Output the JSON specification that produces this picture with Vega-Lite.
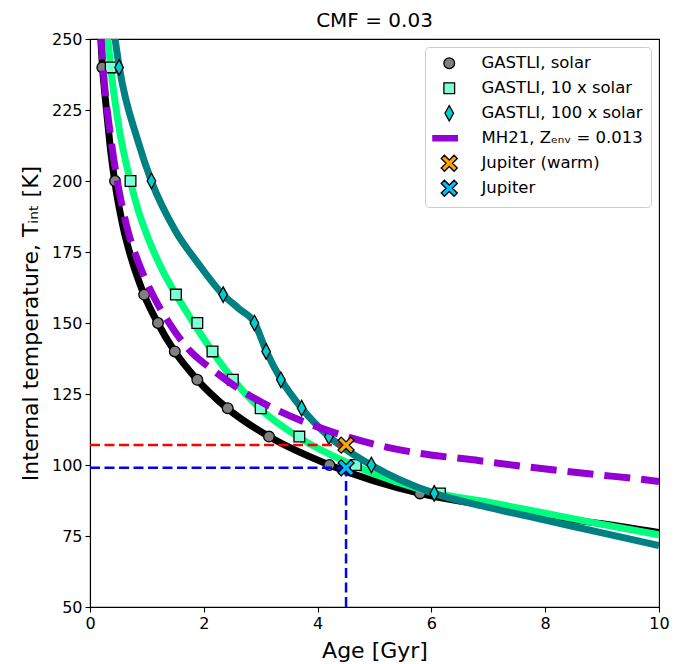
{
  "$schema": "https://vega.github.io/schema/vega-lite/v6.json",
  "width": 569,
  "height": 568,
  "autosize": "none",
  "padding": {"left": 90, "top": 39, "right": 25, "bottom": 57},
  "background": "white",
  "title": {"text": "CMF = 0.03", "fontSize": 20, "font": "DejaVu Sans", "fontWeight": "normal", "anchor": "middle", "offset": 0, "color": "black"},
  "config": {
    "font": "DejaVu Sans",
    "view": {"stroke": "black", "strokeWidth": 1.1},
    "axis": {"domainColor": "black", "domainWidth": 1.1, "tickColor": "black", "tickWidth": 1.1, "tickSize": 5, "labelFont": "DejaVu Sans", "labelFontSize": 16, "labelColor": "black", "titleFont": "DejaVu Sans", "titleFontSize": 22, "titleFontWeight": "normal", "titleColor": "black", "grid": false, "labelPadding": 3, "labelFlush": false, "labelOverlap": false},
    "legend": {"orient": "top-right", "offset": 8, "padding": 8, "fillColor": "white", "strokeColor": "#cccccc", "cornerRadius": 4, "labelFont": "DejaVu Sans", "labelFontSize": 16.5, "labelColor": "black", "symbolSize": 115, "symbolStrokeWidth": 1.3, "symbolOpacity": 1, "rowPadding": 3, "gridAlign": "all", "symbolOffset": 8, "labelOffset": 24, "labelLimit": 400}
  },
  "datasets": {
    "curves": [
      {"series": "GASTLI, solar", "age": 0.18, "T": 253.3},
      {"series": "GASTLI, solar", "age": 0.22, "T": 240},
      {"series": "GASTLI, solar", "age": 0.29, "T": 225},
      {"series": "GASTLI, solar", "age": 0.35, "T": 213},
      {"series": "GASTLI, solar", "age": 0.434, "T": 200},
      {"series": "GASTLI, solar", "age": 0.58, "T": 184},
      {"series": "GASTLI, solar", "age": 0.73, "T": 172.5},
      {"series": "GASTLI, solar", "age": 0.949, "T": 160},
      {"series": "GASTLI, solar", "age": 1.19, "T": 150},
      {"series": "GASTLI, solar", "age": 1.488, "T": 140},
      {"series": "GASTLI, solar", "age": 1.886, "T": 130},
      {"series": "GASTLI, solar", "age": 2.41, "T": 120},
      {"series": "GASTLI, solar", "age": 3.146, "T": 110},
      {"series": "GASTLI, solar", "age": 4.206, "T": 100},
      {"series": "GASTLI, solar", "age": 5.8, "T": 90},
      {"series": "GASTLI, solar", "age": 6.8, "T": 86.2},
      {"series": "GASTLI, solar", "age": 8, "T": 82},
      {"series": "GASTLI, solar", "age": 9, "T": 79.3},
      {"series": "GASTLI, solar", "age": 10, "T": 76.2},
      {"series": "GASTLI, 10 x solar", "age": 0.3, "T": 253},
      {"series": "GASTLI, 10 x solar", "age": 0.364, "T": 240},
      {"series": "GASTLI, 10 x solar", "age": 0.5, "T": 220},
      {"series": "GASTLI, 10 x solar", "age": 0.709, "T": 200},
      {"series": "GASTLI, 10 x solar", "age": 0.85, "T": 189.5},
      {"series": "GASTLI, 10 x solar", "age": 1.0, "T": 181},
      {"series": "GASTLI, 10 x solar", "age": 1.25, "T": 169.5},
      {"series": "GASTLI, 10 x solar", "age": 1.51, "T": 160},
      {"series": "GASTLI, 10 x solar", "age": 1.82, "T": 150},
      {"series": "GASTLI, 10 x solar", "age": 2.15, "T": 140},
      {"series": "GASTLI, 10 x solar", "age": 2.52, "T": 130},
      {"series": "GASTLI, 10 x solar", "age": 2.98, "T": 120},
      {"series": "GASTLI, 10 x solar", "age": 3.65, "T": 110},
      {"series": "GASTLI, 10 x solar", "age": 4.62, "T": 100},
      {"series": "GASTLI, 10 x solar", "age": 6.1, "T": 90},
      {"series": "GASTLI, 10 x solar", "age": 7, "T": 86.9},
      {"series": "GASTLI, 10 x solar", "age": 8, "T": 83},
      {"series": "GASTLI, 10 x solar", "age": 9, "T": 79.1},
      {"series": "GASTLI, 10 x solar", "age": 10, "T": 75.4},
      {"series": "GASTLI, 100 x solar", "age": 0.42, "T": 253},
      {"series": "GASTLI, 100 x solar", "age": 0.515, "T": 240},
      {"series": "GASTLI, 100 x solar", "age": 0.844, "T": 214},
      {"series": "GASTLI, 100 x solar", "age": 1.078, "T": 200},
      {"series": "GASTLI, 100 x solar", "age": 1.5, "T": 182.5},
      {"series": "GASTLI, 100 x solar", "age": 1.9, "T": 171},
      {"series": "GASTLI, 100 x solar", "age": 2.337, "T": 160},
      {"series": "GASTLI, 100 x solar", "age": 2.62, "T": 155},
      {"series": "GASTLI, 100 x solar", "age": 2.894, "T": 150},
      {"series": "GASTLI, 100 x solar", "age": 3.1, "T": 140},
      {"series": "GASTLI, 100 x solar", "age": 3.36, "T": 130},
      {"series": "GASTLI, 100 x solar", "age": 3.72, "T": 120},
      {"series": "GASTLI, 100 x solar", "age": 4.2, "T": 110},
      {"series": "GASTLI, 100 x solar", "age": 4.94, "T": 100},
      {"series": "GASTLI, 100 x solar", "age": 6.05, "T": 90},
      {"series": "GASTLI, 100 x solar", "age": 7, "T": 85.1},
      {"series": "GASTLI, 100 x solar", "age": 8, "T": 80.6},
      {"series": "GASTLI, 100 x solar", "age": 9, "T": 76.1},
      {"series": "GASTLI, 100 x solar", "age": 10, "T": 71.6},
      {"series": "MH21", "age": 0.19, "T": 252},
      {"series": "MH21", "age": 0.23, "T": 240},
      {"series": "MH21", "age": 0.36, "T": 216},
      {"series": "MH21", "age": 0.48, "T": 200},
      {"series": "MH21", "age": 0.66, "T": 183},
      {"series": "MH21", "age": 0.87, "T": 170.4},
      {"series": "MH21", "age": 1.14, "T": 158.5},
      {"series": "MH21", "age": 1.37, "T": 150.7},
      {"series": "MH21", "age": 1.72, "T": 141},
      {"series": "MH21", "age": 2.19, "T": 133},
      {"series": "MH21", "age": 2.72, "T": 125.5},
      {"series": "MH21", "age": 3.25, "T": 119.7},
      {"series": "MH21", "age": 3.92, "T": 114},
      {"series": "MH21", "age": 4.51, "T": 110},
      {"series": "MH21", "age": 5.1, "T": 106.8},
      {"series": "MH21", "age": 5.68, "T": 104.5},
      {"series": "MH21", "age": 6.85, "T": 101.5},
      {"series": "MH21", "age": 7.7, "T": 99.3},
      {"series": "MH21", "age": 8.32, "T": 97.9},
      {"series": "MH21", "age": 8.96, "T": 96.5},
      {"series": "MH21", "age": 9.58, "T": 95.2},
      {"series": "MH21", "age": 10, "T": 94.2}
    ],
    "markers": [
      {"series": "GASTLI, solar", "age": 0.217, "T": 240},
      {"series": "GASTLI, solar", "age": 0.44, "T": 200},
      {"series": "GASTLI, solar", "age": 0.952, "T": 160},
      {"series": "GASTLI, solar", "age": 1.195, "T": 150},
      {"series": "GASTLI, solar", "age": 1.49, "T": 140},
      {"series": "GASTLI, solar", "age": 1.886, "T": 130},
      {"series": "GASTLI, solar", "age": 2.42, "T": 120},
      {"series": "GASTLI, solar", "age": 3.146, "T": 110},
      {"series": "GASTLI, solar", "age": 4.206, "T": 100},
      {"series": "GASTLI, solar", "age": 5.8, "T": 90},
      {"series": "GASTLI, 10 x solar", "age": 0.364, "T": 240},
      {"series": "GASTLI, 10 x solar", "age": 0.712, "T": 200},
      {"series": "GASTLI, 10 x solar", "age": 1.51, "T": 160},
      {"series": "GASTLI, 10 x solar", "age": 1.886, "T": 150},
      {"series": "GASTLI, 10 x solar", "age": 2.153, "T": 140},
      {"series": "GASTLI, 10 x solar", "age": 2.51, "T": 130},
      {"series": "GASTLI, 10 x solar", "age": 3.0, "T": 120},
      {"series": "GASTLI, 10 x solar", "age": 3.679, "T": 110},
      {"series": "GASTLI, 10 x solar", "age": 4.67, "T": 100},
      {"series": "GASTLI, 10 x solar", "age": 6.15, "T": 90},
      {"series": "GASTLI, 100 x solar", "age": 0.512, "T": 240},
      {"series": "GASTLI, 100 x solar", "age": 1.08, "T": 200},
      {"series": "GASTLI, 100 x solar", "age": 2.34, "T": 160},
      {"series": "GASTLI, 100 x solar", "age": 2.89, "T": 150},
      {"series": "GASTLI, 100 x solar", "age": 3.095, "T": 140},
      {"series": "GASTLI, 100 x solar", "age": 3.355, "T": 130},
      {"series": "GASTLI, 100 x solar", "age": 3.72, "T": 120},
      {"series": "GASTLI, 100 x solar", "age": 4.198, "T": 110},
      {"series": "GASTLI, 100 x solar", "age": 4.945, "T": 100},
      {"series": "GASTLI, 100 x solar", "age": 6.05, "T": 90},
      {"series": "Jupiter (warm)", "age": 4.5, "T": 107},
      {"series": "Jupiter", "age": 4.5, "T": 99}
    ],
    "guides": [
      {"ref": "warm", "age": 0, "age2": 4.5, "T": 107, "T2": 107},
      {"ref": "cold", "age": 0, "age2": 4.5, "T": 99, "T2": 99},
      {"ref": "cold", "age": 4.5, "age2": 4.5, "T": 50, "T2": 99}
    ]
  },
  "encoding": {
    "x": {"field": "age", "type": "quantitative", "scale": {"domain": [0, 10], "zero": false, "nice": false}, "axis": {"title": "Age [Gyr]", "values": [0, 2, 4, 6, 8, 10], "titlePadding": 9}},
    "y": {"field": "T", "type": "quantitative", "scale": {"domain": [50, 250], "zero": false, "nice": false}, "axis": {"title": "Internal temperature, Tᵢₙₜ [K]", "values": [50, 75, 100, 125, 150, 175, 200, 225, 250], "titlePadding": 9}}
  },
  "layer": [
    {
      "data": {"name": "curves"},
      "transform": [{"filter": "datum.series === 'GASTLI, solar'"}],
      "mark": {"type": "line", "color": "black", "strokeWidth": 7, "interpolate": "monotone", "clip": true}
    },
    {
      "data": {"name": "markers"},
      "transform": [{"filter": "datum.series === 'GASTLI, solar'"}],
      "mark": {"type": "point", "filled": true, "size": 115, "strokeWidth": 1.3, "opacity": 1},
      "encoding": {
        "shape": {"field": "series", "type": "nominal", "legend": {"title": null}, "scale": {"domain": ["GASTLI, solar", "GASTLI, 10 x solar", "GASTLI, 100 x solar", "MH21, Zₑₙᵥ = 0.013", "Jupiter (warm)", "Jupiter"], "range": ["M1,0A1,1,0,1,1,-1,0A1,1,0,1,1,1,0Z", "M-1,-1H1V1H-1Z", "M0,-1.45L0.8,0L0,1.45L-0.8,0Z", "M-3.05,-0.5H1.5V0.5H-3.05Z", "M1.5,-0.9L0.6,0L1.5,0.9L0.9,1.5L0,0.6L-0.9,1.5L-1.5,0.9L-0.6,0L-1.5,-0.9L-0.9,-1.5L0,-0.6L0.9,-1.5Z", "M1.5,-0.9L0.6,0L1.5,0.9L0.9,1.5L0,0.6L-0.9,1.5L-1.5,0.9L-0.6,0L-1.5,-0.9L-0.9,-1.5L0,-0.6L0.9,-1.5Z"]}},
        "fill": {"field": "series", "type": "nominal", "legend": {"title": null}, "scale": {"domain": ["GASTLI, solar", "GASTLI, 10 x solar", "GASTLI, 100 x solar", "MH21, Zₑₙᵥ = 0.013", "Jupiter (warm)", "Jupiter"], "range": ["#808080", "#7fffd4", "#00ced1", "#9400d3", "#ffa500", "#00bfff"]}},
        "stroke": {"field": "series", "type": "nominal", "legend": {"title": null}, "scale": {"domain": ["GASTLI, solar", "GASTLI, 10 x solar", "GASTLI, 100 x solar", "MH21, Zₑₙᵥ = 0.013", "Jupiter (warm)", "Jupiter"], "range": ["black", "black", "black", "#9400d3", "black", "black"]}}
      }
    },
    {
      "data": {"name": "curves"},
      "transform": [{"filter": "datum.series === 'GASTLI, 10 x solar'"}],
      "mark": {"type": "line", "color": "#00ff7f", "strokeWidth": 7, "interpolate": "monotone", "clip": true}
    },
    {
      "data": {"name": "markers"},
      "transform": [{"filter": "datum.series === 'GASTLI, 10 x solar'"}],
      "mark": {"type": "point", "filled": true, "size": 115, "strokeWidth": 1.3, "opacity": 1},
      "encoding": {
        "shape": {"field": "series", "type": "nominal", "legend": {"title": null}},
        "fill": {"field": "series", "type": "nominal", "legend": {"title": null}},
        "stroke": {"field": "series", "type": "nominal", "legend": {"title": null}}
      }
    },
    {
      "data": {"name": "curves"},
      "transform": [{"filter": "datum.series === 'GASTLI, 100 x solar'"}],
      "mark": {"type": "line", "color": "#008080", "strokeWidth": 7, "interpolate": "monotone", "clip": true}
    },
    {
      "data": {"name": "markers"},
      "transform": [{"filter": "datum.series === 'GASTLI, 100 x solar'"}],
      "mark": {"type": "point", "filled": true, "size": 115, "strokeWidth": 1.3, "opacity": 1},
      "encoding": {
        "shape": {"field": "series", "type": "nominal", "legend": {"title": null}},
        "fill": {"field": "series", "type": "nominal", "legend": {"title": null}},
        "stroke": {"field": "series", "type": "nominal", "legend": {"title": null}}
      }
    },
    {
      "data": {"name": "curves"},
      "transform": [{"filter": "datum.series === 'MH21'"}],
      "mark": {"type": "line", "color": "#9400d3", "strokeWidth": 7, "strokeDash": [26, 11], "interpolate": "monotone", "clip": true}
    },
    {
      "data": {"name": "guides"},
      "mark": {"type": "rule", "strokeWidth": 2.5, "strokeDash": [10, 4.5]},
      "encoding": {
        "x2": {"field": "age2"},
        "y2": {"field": "T2"},
        "color": {"field": "ref", "type": "nominal", "legend": null, "scale": {"domain": ["warm", "cold"], "range": ["#ff0000", "#0000ff"]}}
      }
    },
    {
      "data": {"name": "markers"},
      "transform": [{"filter": "datum.series === 'Jupiter (warm)' || datum.series === 'Jupiter'"}],
      "mark": {"type": "point", "filled": true, "size": 115, "strokeWidth": 1.3, "opacity": 1},
      "encoding": {
        "shape": {"field": "series", "type": "nominal", "legend": {"title": null}},
        "fill": {"field": "series", "type": "nominal", "legend": {"title": null}},
        "stroke": {"field": "series", "type": "nominal", "legend": {"title": null}}
      }
    }
  ]
}
